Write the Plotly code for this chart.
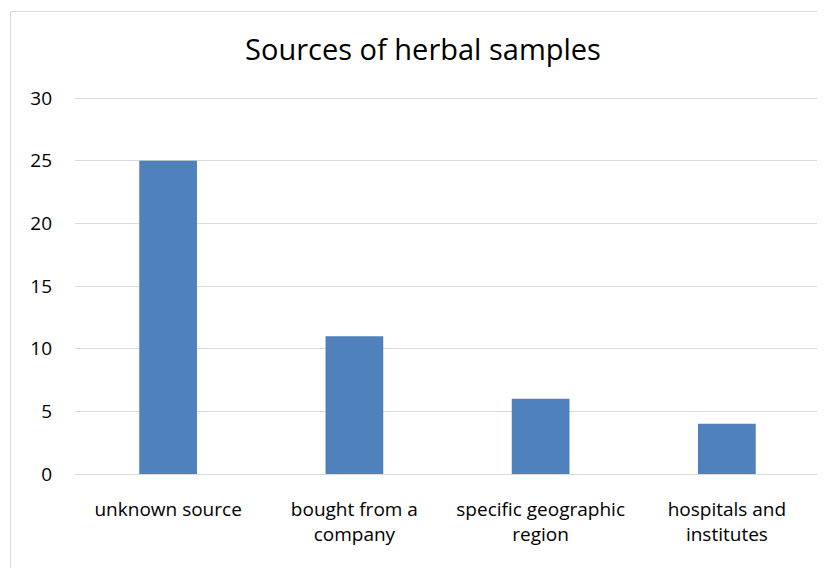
import plotly.graph_objects as go

categories = ["unknown source", "bought from a<br>company", "specific geographic<br>region", "hospitals and<br>institutes"]
values = [25, 11, 6, 4]
y_ticks = [0, 5, 10, 15, 20, 25, 30]

FONT = "Open Sans"
OFF = 8  # page body margin in the browser
W, H = 825 - OFF, 568 - OFF
ML, MR, MT, MB = 75 - OFF, 5, 98 - OFF - 2, 94
pw = W - ML - MR
ph = H - MT - MB

def px_x(px):
    return (px - OFF - ML) / pw

def px_y(py):
    return (H - MB - (py - OFF)) / ph

fig = go.Figure(go.Bar(
    x=categories, y=values,
    marker=dict(color="#4F81BD", line=dict(width=0)),
    width=0.31,
))

fig.update_layout(
    width=W, height=H,
    margin=dict(l=ML, r=MR, t=MT, b=MB, autoexpand=False),
    paper_bgcolor="white", plot_bgcolor="white",
    showlegend=False,
    title=dict(text="Sources of herbal samples", x=px_x(423), xref="paper", xanchor="center",
               y=1 - (50 - OFF) / H, yanchor="middle",
               font=dict(family=FONT, size=29, color="#000000")),
    font=dict(family=FONT, size=19, color="#000000"),
    xaxis=dict(showgrid=False, showline=False, ticks="", tickfont=dict(size=19),
               ticklabelstandoff=22),
    yaxis=dict(range=[0, 30.16], tickvals=y_ticks, showgrid=True, gridcolor="#D9D9D9",
               gridwidth=1, zeroline=True, zerolinecolor="#D9D9D9", zerolinewidth=1,
               showline=False, ticks="", tickfont=dict(size=19), ticklabelstandoff=22),
    shapes=[dict(type="rect", xref="paper", yref="paper",
                 x0=px_x(10.5), x1=px_x(840), y0=px_y(11.5), y1=px_y(590),
                 line=dict(color="#D9D9D9", width=1), layer="below")],
)

fig.write_html("out.html")
